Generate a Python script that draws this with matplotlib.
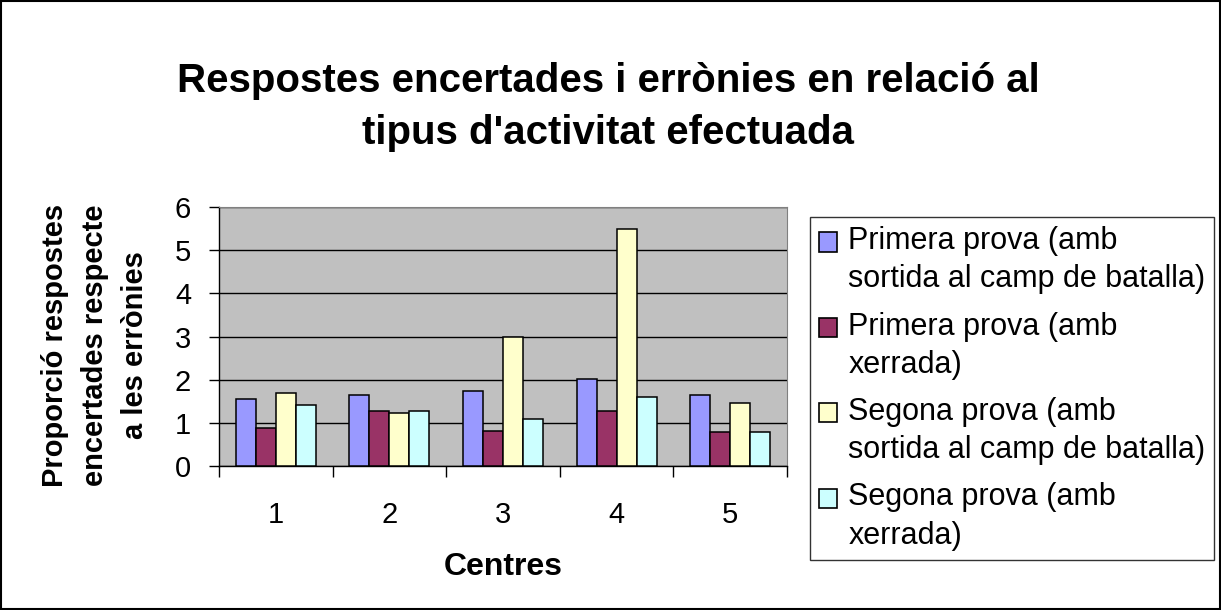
import numpy as np
import matplotlib.pyplot as plt
from matplotlib.patches import Rectangle
from matplotlib.container import BarContainer
from matplotlib.legend_handler import HandlerPatch

plt.rcParams['font.family'] = ['Liberation Sans', 'DejaVu Sans']

# --- Data ---
centres = ['1', '2', '3', '4', '5']
primera_sortida = [1.55, 1.65, 1.74, 2.02, 1.65]
primera_xerrada = [0.87, 1.28, 0.82, 1.28, 0.78]
segona_sortida = [1.70, 1.23, 3.00, 5.50, 1.47]
segona_xerrada = [1.42, 1.28, 1.09, 1.60, 0.78]

series_labels = [
    'Primera prova (amb\nsortida al camp de batalla)',
    'Primera prova (amb\nxerrada)',
    'Segona prova (amb\nsortida al camp de batalla)',
    'Segona prova (amb\nxerrada)',
]
series_colors = ['#9999FF', '#993366', '#FFFFCC', '#CCFFFF']
series = [primera_sortida, primera_xerrada, segona_sortida, segona_xerrada]

# --- Figure ---
fig = plt.figure(figsize=(12.21, 6.10), dpi=100)
ax = fig.add_axes([219 / 1221, 1 - 466 / 610, (787 - 219) / 1221, (466 - 207) / 610])
ax.set_facecolor('#C0C0C0')

x = np.arange(len(centres))
width = 0.176
for i, (vals, lab, col) in enumerate(zip(series, series_labels, series_colors)):
    ax.bar(x + (i - 1.5) * width, vals, width, color=col, edgecolor='black',
           linewidth=1.1, label=lab, zorder=3)

ax.set_xlim(-0.5, len(centres) - 0.5)
ax.set_ylim(0, 6)
ax.set_yticks(range(7))
ax.yaxis.grid(True, color='black', linewidth=1, zorder=1)
ax.set_axisbelow(True)

ax.set_xticks(x)
ax.set_xticklabels(centres, fontsize=21)
ax.set_xticks(np.arange(len(centres) + 1) - 0.5, minor=True)
ax.tick_params(axis='x', which='major', length=0, pad=25)
ax.tick_params(axis='x', which='minor', length=8, width=1, direction='out')
ax.tick_params(axis='y', length=7, width=1, direction='out', labelsize=21, pad=13)

for s in ['top', 'right']:
    ax.spines[s].set_color('#808080')
for s in ['left', 'bottom']:
    ax.spines[s].set_color('black')
    ax.spines[s].set_linewidth(1)

fig.text(503 / 1221, 1 - 567 / 610, 'Centres', fontsize=23, fontweight='bold',
         ha='center', va='center')
fig.text(95 / 1221, 1 - 345 / 610,
         'Proporció respostes\nencertades respecte\na les errònies',
         fontsize=21, fontweight='bold', rotation=90, ha='center', va='center',
         multialignment='center', linespacing=1.55)

fig.text(608 / 1221, 1 - 107 / 610,
         "Respostes encertades i errònies en relació al\ntipus d'activitat efectuada",
         fontsize=29, fontweight='bold', ha='center', va='center',
         multialignment='center', linespacing=1.5)


# legend handles aligned with the first text line
def top_patch(legend, orig_handle, xdescent, ydescent, width, height, fontsize):
    return Rectangle((-xdescent, -ydescent + 0.62 * fontsize), width, height)


def from_first_bar(handle, orig):
    handle.update_from(orig.patches[0])
    handle.set_linewidth(1.2)


leg = fig.legend(loc='upper left', bbox_to_anchor=(810 / 1221, 1 - 217 / 610),
                 fontsize=22, frameon=True, fancybox=False, edgecolor='black',
                 handlelength=0.59, handleheight=0.59, handletextpad=0.36,
                 labelspacing=0.56, borderpad=0.3, borderaxespad=0,
                 handler_map={BarContainer: HandlerPatch(patch_func=top_patch,
                                                         update_func=from_first_bar)})
leg.get_frame().set_linewidth(1)
for t in leg.get_texts():
    t.set_linespacing(1.36)

# chart border
fig.patches.append(Rectangle((0.001, 0.002), 0.998, 0.996, transform=fig.transFigure,
                             fill=False, edgecolor='black', linewidth=1.5))

plt.savefig('out.png', dpi=100)
